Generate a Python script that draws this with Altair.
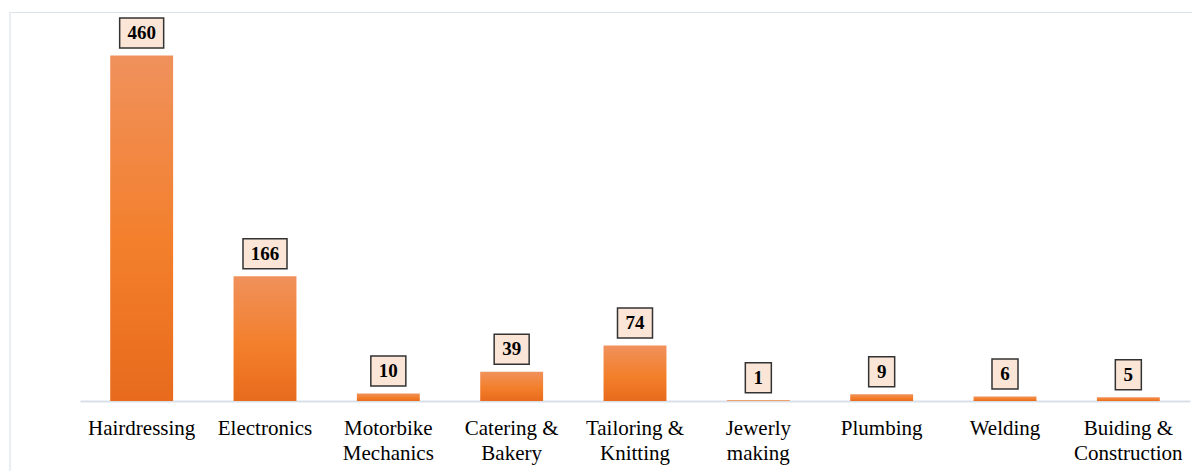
import altair as alt
import pandas as pd

categories = [
    "Hairdressing",
    "Electronics",
    "Motorbike\nMechanics",
    "Catering &\nBakery",
    "Tailoring &\nKnitting",
    "Jewerly\nmaking",
    "Plumbing",
    "Welding",
    "Buiding &\nConstruction",
]
counts = [460, 166, 10, 39, 74, 1, 9, 6, 5]

df = pd.DataFrame({"Trade": categories, "Count": counts})

W, H = 1110, 389
SERIF = "Liberation Serif"
BORDER = "#dde3eb"

x_enc = alt.X(
    "Trade:N",
    sort=categories,
    scale=alt.Scale(paddingInner=0.49, paddingOuter=0.245),
    axis=alt.Axis(
        title=None,
        labelAngle=0,
        labelLimit=0,
        labelFont=SERIF,
        labelFontSize=21,
        labelColor="#000000",
        labelLineHeight=25,
        labelPadding=16,
        labelExpr="split(datum.label, '\\n')",
        ticks=False,
        tickSize=0,
        domainColor="#d9dfe7",
        domainWidth=2,
        grid=False,
    ),
)
y_enc = alt.Y(
    "Count:Q",
    scale=alt.Scale(domain=[0, 518], nice=False, zero=True),
    axis=None,
)

gradient = alt.Gradient(
    gradient="linear",
    stops=[
        alt.GradientStop(color="#f0915c", offset=0),
        alt.GradientStop(color="#f37f2b", offset=0.55),
        alt.GradientStop(color="#e86b1d", offset=1),
    ],
    x1=0, x2=0, y1=0, y2=1,
)

base = alt.Chart(df)

bars = base.mark_bar(color=gradient).encode(x=x_enc, y=y_enc)

boxes = base.transform_calculate(
    box="datum.Count >= 100 ? 'M-1.467,-1H1.467V1H-1.467Z' : "
        "(datum.Count >= 10 ? 'M-1.167,-1H1.167V1H-1.167Z' : 'M-0.867,-1H0.867V1H-0.867Z')"
).mark_point(
    filled=True,
    fill="#fbe5d6",
    stroke="#333333",
    strokeWidth=1.5,
    opacity=1,
    size=900,
    yOffset=-22.5,
).encode(
    x=x_enc,
    y=y_enc,
    shape=alt.Shape("box:N", scale=None, legend=None),
)

labels = base.mark_text(
    font=SERIF,
    fontSize=19,
    fontWeight="bold",
    color="#000000",
    baseline="middle",
    align="center",
    dy=-22.5,
).encode(x=x_enc, y=y_enc, text=alt.Text("Count:Q", format="d"))

frame_src = alt.Chart(pd.DataFrame({"a": [0]}))
top_border = frame_src.mark_rule(color=BORDER, strokeWidth=1.2).encode(
    x=alt.value(-70), x2=alt.value(W + 4), y=alt.value(0.5)
)
left_border = frame_src.mark_rule(color=BORDER, strokeWidth=1.2).encode(
    x=alt.value(-70), y=alt.value(0), y2=alt.value(H + 80)
)

chart = alt.layer(top_border, left_border, bars, boxes, labels).properties(
    width=W,
    height=H,
    autosize=alt.AutoSizeParams(type="none"),
    padding={"left": 72, "top": 4, "right": 2, "bottom": 70},
    background="white",
).configure_view(stroke=None)

chart.save("out.html", embed_options={"renderer": "svg", "actions": False})
